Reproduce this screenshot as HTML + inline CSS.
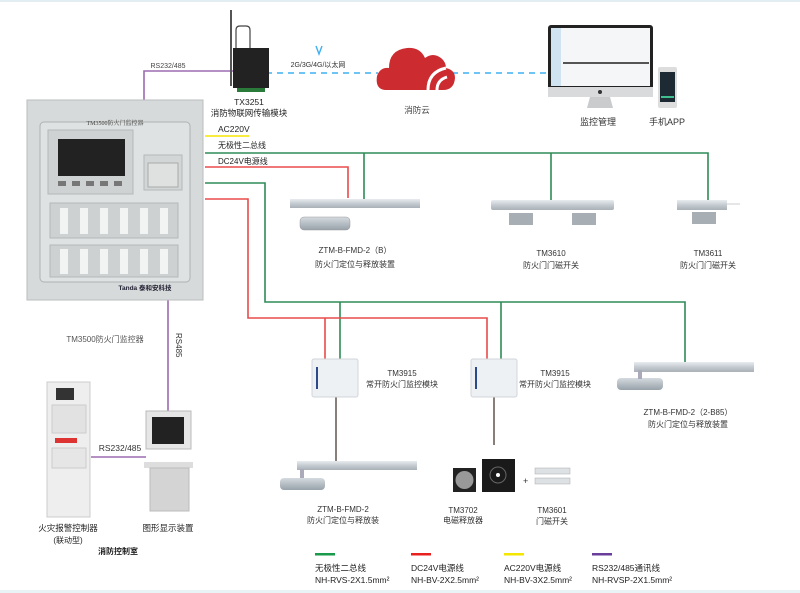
<!DOCTYPE html>
<html><head><meta charset="utf-8"><style>
html,body{margin:0;padding:0;background:#fff;}
svg{display:block;font-family:"Liberation Sans","Noto Sans CJK SC",sans-serif;}
</style></head><body>
<svg width="800" height="593" viewBox="0 0 800 593" xmlns="http://www.w3.org/2000/svg">
<defs>
<linearGradient id="rail" x1="0" y1="0" x2="0" y2="1"><stop offset="0" stop-color="#e8ecef"/><stop offset="0.5" stop-color="#c4cbd1"/><stop offset="1" stop-color="#a9b1b8"/></linearGradient>
<linearGradient id="body" x1="0" y1="0" x2="0" y2="1"><stop offset="0" stop-color="#d5dbe0"/><stop offset="1" stop-color="#98a2aa"/></linearGradient>
</defs>
<rect x="0" y="0" width="800" height="2" fill="#e3eef2"/>
<rect x="0" y="590" width="800" height="3" fill="#e9f2f4"/>

<g fill="none" stroke-width="1.6">
<polyline points="144,100 144,71 236,71" stroke="#9b6bb0"/>
<line x1="205" y1="136" x2="249" y2="136" stroke="#f5e600"/>
<polyline points="205,153 708,153 708,200" stroke="#2e8b57"/>
<line x1="364" y1="153" x2="364" y2="200" stroke="#2e8b57"/>
<line x1="551" y1="153" x2="551" y2="200" stroke="#2e8b57"/>
<polyline points="205,167 348,167 348,198" stroke="#e84a4a"/>
<polyline points="205,183 265,183 265,302 685,302 685,364" stroke="#2e8b57"/>
<line x1="340" y1="302" x2="340" y2="360" stroke="#2e8b57"/>
<line x1="501" y1="302" x2="501" y2="360" stroke="#2e8b57"/>
<polyline points="205,199 248,199 248,318 487,318 487,360" stroke="#e84a4a"/>
<line x1="325" y1="318" x2="325" y2="360" stroke="#e84a4a"/>
<line x1="336" y1="397" x2="336" y2="462" stroke="#6b5f5a"/>
<line x1="494" y1="397" x2="494" y2="445" stroke="#6b5f5a"/>
<line x1="168" y1="300" x2="168" y2="411" stroke="#9b6bb0"/>
<line x1="91" y1="457" x2="146" y2="457" stroke="#9b6bb0"/>
<line x1="266" y1="73" x2="378" y2="73" stroke="#3fb0f0" stroke-dasharray="6,5"/>
<line x1="452" y1="73" x2="548" y2="73" stroke="#3fb0f0" stroke-dasharray="6,5"/>
</g>

<!-- router -->
<line x1="231" y1="10" x2="231" y2="86" stroke="#555" stroke-width="2"/>
<path d="M236 48 V30 q0 -4 4 -4 h6 q4 0 4 4 V48" stroke="#444" fill="none" stroke-width="1.2"/>
<rect x="233" y="48" width="36" height="40" fill="#222"/>
<rect x="237" y="88" width="28" height="4" fill="#2a7a3a"/>
<text x="318" y="67" font-size="7" fill="#333" text-anchor="middle">2G/3G/4G/以太网</text>
<path d="M316 46 l3 8 l3 -8" stroke="#3fb0f0" fill="none" stroke-width="1.4"/>
<text x="249" y="105" font-size="8.5" fill="#222" text-anchor="middle">TX3251</text>
<text x="249" y="116" font-size="8.5" fill="#222" text-anchor="middle">消防物联网传输模块</text>
<text x="168" y="68" font-size="7" fill="#444" text-anchor="middle">RS232/485</text>

<!-- cloud -->
<path d="M385 90 q-10 -1 -8 -14 q3 -9 12 -8 q0 -18 18 -20 q13 -1 18 10 q8 -6 16 0 q5 4 5 10 q9 2 9 10 q-1 12 -12 12 z" fill="#cc2b30"/>
<path d="M428 90 q0 -18 18 -22" stroke="#fff" stroke-width="3" fill="none"/>
<path d="M437 90 q0 -10 10 -13" stroke="#fff" stroke-width="3" fill="none"/>
<text x="417" y="113" font-size="8.5" fill="#444" text-anchor="middle">消防云</text>

<!-- monitor & phone -->
<rect x="548" y="25" width="105" height="72" rx="3" fill="#222"/>
<rect x="551" y="28" width="99" height="58" fill="#f4f6f8"/>
<rect x="551" y="28" width="10" height="58" fill="#cfe3f0"/>
<rect x="563" y="62" width="86" height="2" fill="#555"/>
<rect x="548" y="87" width="105" height="10" fill="#d8dadc"/>
<circle cx="600" cy="92" r="2" fill="#333"/>
<path d="M590 97 h20 l3 11 h-26 z" fill="#c9cbcd"/>
<rect x="658" y="67" width="19" height="41" rx="2" fill="#ddd"/>
<rect x="660" y="72" width="15" height="30" fill="#1d2a33"/>
<rect x="661" y="96" width="13" height="2" fill="#3fbf8f"/>
<text x="598" y="125" font-size="9" fill="#333" text-anchor="middle">监控管理</text>
<text x="667" y="125" font-size="9" fill="#333" text-anchor="middle">手机APP</text>

<!-- main panel -->
<rect x="27" y="100" width="176" height="200" fill="#d7dada" stroke="#b9bdbd"/>
<rect x="40" y="122" width="150" height="160" rx="4" fill="#dfe2e2" stroke="#aeb2b2"/>
<text x="115" y="125" font-size="6" fill="#444" text-anchor="middle" font-family="Liberation Serif,Noto Serif CJK SC,serif">TM3500防火门监控器</text>
<rect x="48" y="130" width="85" height="64" fill="#cfd2d2" stroke="#b5b8b8"/>
<rect x="58" y="139" width="67" height="37" fill="#222"/>
<g fill="#777"><rect x="58" y="181" width="8" height="5"/><rect x="72" y="181" width="8" height="5"/><rect x="86" y="181" width="8" height="5"/><rect x="100" y="181" width="8" height="5"/><rect x="114" y="181" width="8" height="5"/></g>
<rect x="144" y="155" width="38" height="35" fill="#d3d6d6" stroke="#b5b8b8"/>
<rect x="148" y="163" width="30" height="24" fill="#dfe1e1" stroke="#aaa"/>
<rect x="50" y="203" width="128" height="35" fill="#cdd1d1" stroke="#b5b8b8"/>
<rect x="50" y="245" width="128" height="32" fill="#cdd1d1" stroke="#b5b8b8"/>
<g fill="#f2f4f4">
<rect x="60" y="208" width="8" height="26"/><rect x="80" y="208" width="8" height="26"/><rect x="100" y="208" width="8" height="26"/><rect x="120" y="208" width="8" height="26"/><rect x="140" y="208" width="8" height="26"/><rect x="160" y="208" width="8" height="26"/>
<rect x="60" y="249" width="8" height="25"/><rect x="80" y="249" width="8" height="25"/><rect x="100" y="249" width="8" height="25"/><rect x="120" y="249" width="8" height="25"/><rect x="140" y="249" width="8" height="25"/><rect x="160" y="249" width="8" height="25"/>
</g>
<text x="145" y="290" font-size="6.5" font-weight="bold" fill="#223" text-anchor="middle">Tanda 泰和安科技</text>
<text x="218" y="132" font-size="8.5" fill="#222">AC220V</text>
<text x="218" y="148" font-size="8" fill="#222">无极性二总线</text>
<text x="218" y="164" font-size="8" fill="#222">DC24V电源线</text>

<!-- closer B -->
<rect x="290" y="199" width="130" height="9" fill="url(#rail)"/>
<rect x="300" y="217" width="50" height="13" rx="4" fill="url(#body)" stroke="#999" stroke-width="0.5"/>
<text x="355" y="253" font-size="8" fill="#333" text-anchor="middle">ZTM-B-FMD-2（B）</text>
<text x="355" y="267" font-size="8" fill="#333" text-anchor="middle">防火门定位与释放装置</text>

<!-- TM3610 -->
<rect x="491" y="200" width="123" height="10" rx="2" fill="url(#rail)"/>
<rect x="509" y="213" width="24" height="12" fill="#a7afb4"/>
<rect x="572" y="213" width="24" height="12" fill="#a7afb4"/>
<text x="551" y="256" font-size="8" fill="#333" text-anchor="middle">TM3610</text>
<text x="551" y="268" font-size="8" fill="#333" text-anchor="middle">防火门门磁开关</text>

<!-- TM3611 -->
<rect x="677" y="200" width="50" height="10" fill="url(#rail)"/>
<line x1="727" y1="204" x2="740" y2="204" stroke="#ccc"/>
<rect x="692" y="212" width="24" height="12" fill="#a7afb4"/>
<text x="708" y="256" font-size="8" fill="#333" text-anchor="middle">TM3611</text>
<text x="708" y="268" font-size="8" fill="#333" text-anchor="middle">防火门门磁开关</text>

<!-- modules -->
<rect x="312" y="359" width="46" height="38" rx="2" fill="#eef1f4" stroke="#d0d5da"/>
<rect x="316" y="367" width="2" height="22" fill="#2a4a8a"/>
<rect x="471" y="359" width="46" height="38" rx="2" fill="#eef1f4" stroke="#d0d5da"/>
<rect x="475" y="367" width="2" height="22" fill="#2a4a8a"/>
<text x="402" y="376" font-size="8" fill="#333" text-anchor="middle">TM3915</text>
<text x="402" y="387" font-size="8" fill="#333" text-anchor="middle">常开防火门监控模块</text>
<text x="555" y="376" font-size="8" fill="#333" text-anchor="middle">TM3915</text>
<text x="555" y="387" font-size="8" fill="#333" text-anchor="middle">常开防火门监控模块</text>

<!-- right closer -->
<rect x="634" y="362" width="120" height="10" fill="url(#rail)"/>
<rect x="617" y="378" width="46" height="12" rx="4" fill="url(#body)"/>
<rect x="638" y="370" width="4" height="9" fill="#aab"/>
<text x="688" y="415" font-size="8" fill="#333" text-anchor="middle">ZTM-B-FMD-2（2-B85）</text>
<text x="688" y="427" font-size="8" fill="#333" text-anchor="middle">防火门定位与释放装置</text>

<!-- bottom closer -->
<rect x="297" y="461" width="120" height="9" fill="url(#rail)"/>
<rect x="280" y="478" width="45" height="12" rx="4" fill="url(#body)"/>
<rect x="300" y="469" width="4" height="9" fill="#aab"/>
<text x="343" y="512" font-size="8" fill="#333" text-anchor="middle">ZTM-B-FMD-2</text>
<text x="343" y="523" font-size="8" fill="#333" text-anchor="middle">防火门定位与释放装</text>

<!-- TM3702 / TM3601 -->
<rect x="453" y="468" width="23" height="24" fill="#222"/>
<circle cx="464.5" cy="480" r="9" fill="#999"/>
<rect x="482" y="459" width="33" height="33" fill="#1a1a1a"/>
<circle cx="498" cy="475" r="8" fill="none" stroke="#666"/>
<circle cx="498" cy="475" r="2" fill="#fff"/>
<text x="523" y="484" font-size="9" fill="#333">+</text>
<rect x="535" y="468" width="35" height="6" fill="#dde1e4" stroke="#aaa" stroke-width="0.5"/>
<rect x="535" y="478" width="35" height="6" fill="#dde1e4" stroke="#aaa" stroke-width="0.5"/>
<text x="463" y="513" font-size="8" fill="#333" text-anchor="middle">TM3702</text>
<text x="463" y="523" font-size="8" fill="#333" text-anchor="middle">电磁释放器</text>
<text x="552" y="513" font-size="8" fill="#333" text-anchor="middle">TM3601</text>
<text x="552" y="524" font-size="8" fill="#333" text-anchor="middle">门磁开关</text>

<!-- control room -->
<text x="105" y="342" font-size="8" fill="#555" text-anchor="middle">TM3500防火门监控器</text>
<text x="176" y="333" font-size="8" fill="#333" transform="rotate(90 176 333)">RS485</text>
<rect x="47" y="382" width="43" height="135" fill="#eeeeee" stroke="#ccc"/>
<rect x="56" y="388" width="18" height="12" fill="#333"/>
<rect x="52" y="405" width="34" height="28" fill="#e2e2e2" stroke="#ccc"/>
<rect x="55" y="438" width="22" height="5" fill="#d33"/>
<rect x="52" y="448" width="34" height="20" fill="#e6e6e6" stroke="#ccc"/>
<rect x="146" y="411" width="45" height="38" fill="#e6e6e6" stroke="#bbb"/>
<rect x="152" y="417" width="32" height="27" fill="#222"/>
<rect x="144" y="462" width="49" height="6" fill="#ddd"/>
<rect x="150" y="468" width="39" height="43" fill="#d4d4d4" stroke="#bbb"/>
<text x="120" y="451" font-size="8.5" fill="#333" text-anchor="middle">RS232/485</text>
<text x="68" y="531" font-size="8.5" fill="#222" text-anchor="middle">火灾报警控制器</text>
<text x="68" y="543" font-size="8" fill="#222" text-anchor="middle">(联动型)</text>
<text x="168" y="531" font-size="8.5" fill="#222" text-anchor="middle">图形显示装置</text>
<text x="118" y="554" font-size="8" font-weight="bold" fill="#222" text-anchor="middle">消防控制室</text>

<!-- legend -->
<rect x="315" y="553" width="20" height="2.5" fill="#1a9a4a"/>
<rect x="411" y="553" width="20" height="2.5" fill="#e82020"/>
<rect x="504" y="553" width="20" height="2.5" fill="#f5e600"/>
<rect x="592" y="553" width="20" height="2.5" fill="#6a3d9a"/>
<g font-size="8.5" fill="#222">
<text x="315" y="571">无极性二总线</text><text x="315" y="583">NH-RVS-2X1.5mm²</text>
<text x="411" y="571">DC24V电源线</text><text x="411" y="583">NH-BV-2X2.5mm²</text>
<text x="504" y="571">AC220V电源线</text><text x="504" y="583">NH-BV-3X2.5mm²</text>
<text x="592" y="571">RS232/485通讯线</text><text x="592" y="583">NH-RVSP-2X1.5mm²</text>
</g>
</svg>
</body></html>
